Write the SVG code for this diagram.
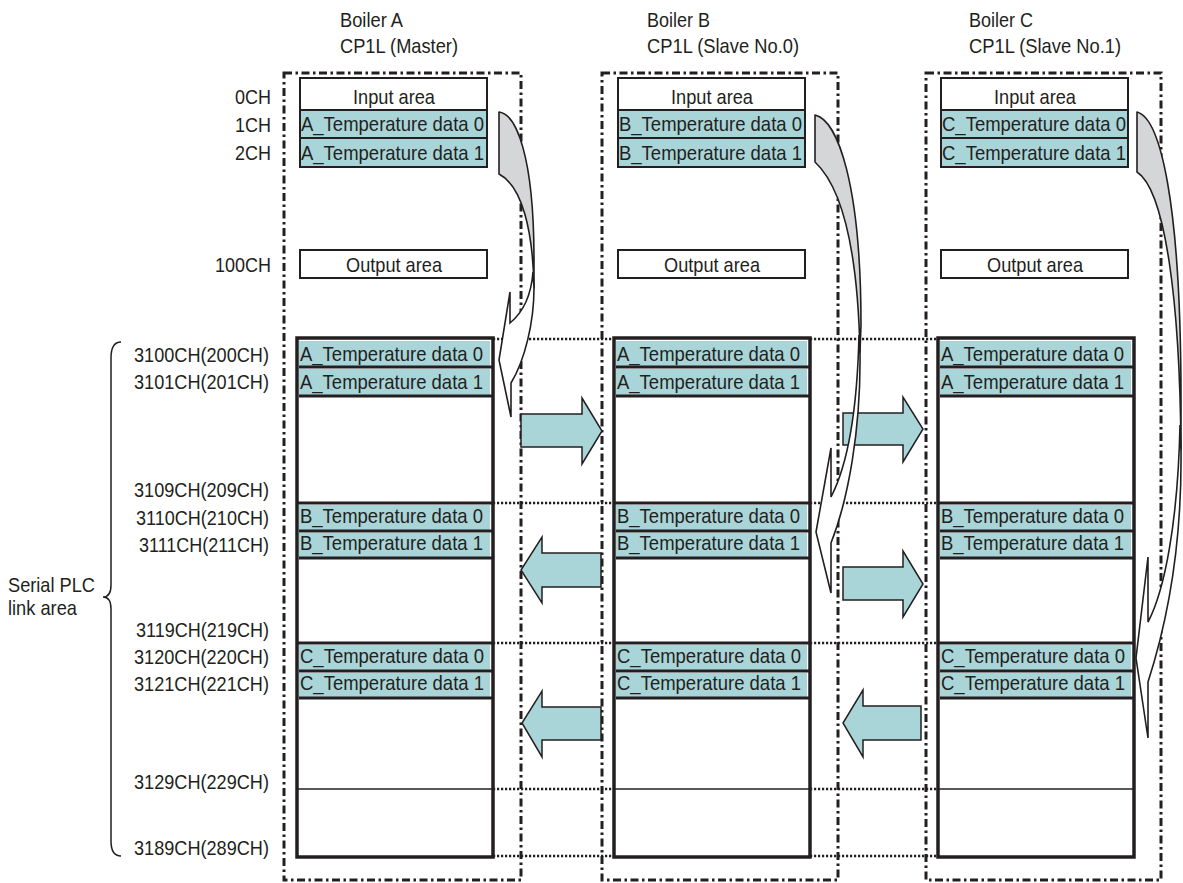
<svg xmlns="http://www.w3.org/2000/svg" xmlns:xlink="http://www.w3.org/1999/xlink" width="1183" height="883" viewBox="0 0 1183 883">
<style>
.t{font-family:"Liberation Sans",Arial,sans-serif;font-size:21px;fill:#231f20}
.m{text-anchor:middle}
.e{text-anchor:end}
.box{fill:#fff;stroke:#231f20;stroke-width:2}
.teal{fill:#a9d5d9}
.dd{fill:none;stroke:#231f20;stroke-width:3;stroke-dasharray:8 3.5 2.5 3.5}
.dot{fill:none;stroke:#231f20;stroke-width:2.5;stroke-dasharray:2.2 1.8}
.thk{stroke:#231f20;stroke-width:3}
.thn{stroke:#231f20;stroke-width:1.5}
.ln{stroke:#231f20;stroke-width:2}
.blk{fill:#a9d5d9;stroke:#231f20;stroke-width:1.5;stroke-linejoin:miter}
.cb{fill:#d5d6d8;stroke:#231f20;stroke-width:1.6;stroke-linejoin:round}
.cf{fill:#fff;stroke:#231f20;stroke-width:1.6;stroke-linejoin:miter}
.br{fill:none;stroke:#231f20;stroke-width:1.5}
</style>
<defs>
<g id="serial">
<rect x="297" y="338" width="196" height="519" fill="#fff" stroke="#231f20" stroke-width="3.5"/>
<rect class="teal" x="299" y="341" width="191" height="25"/>
<rect class="teal" x="299" y="369" width="191" height="26"/>
<rect class="teal" x="299" y="505" width="191" height="25"/>
<rect class="teal" x="299" y="533" width="191" height="24"/>
<rect class="teal" x="299" y="645" width="191" height="25"/>
<rect class="teal" x="299" y="673" width="191" height="24"/>
<line class="thk" x1="299" y1="367" x2="493" y2="367"/>
<line class="thk" x1="299" y1="396" x2="493" y2="396"/>
<line class="thk" x1="297" y1="503" x2="493" y2="503"/>
<line class="thk" x1="299" y1="531" x2="493" y2="531"/>
<line class="thk" x1="299" y1="558" x2="493" y2="558"/>
<line class="thk" x1="297" y1="643" x2="493" y2="643"/>
<line class="thk" x1="299" y1="671" x2="493" y2="671"/>
<line class="thk" x1="299" y1="698" x2="493" y2="698"/>
<line class="thn" x1="297" y1="789" x2="493" y2="789"/>
<text class="t" x="300" y="361" textLength="183" lengthAdjust="spacingAndGlyphs">A_Temperature data 0</text>
<text class="t" x="300" y="389" textLength="183" lengthAdjust="spacingAndGlyphs">A_Temperature data 1</text>
<text class="t" x="300" y="523" textLength="183" lengthAdjust="spacingAndGlyphs">B_Temperature data 0</text>
<text class="t" x="300" y="550" textLength="183" lengthAdjust="spacingAndGlyphs">B_Temperature data 1</text>
<text class="t" x="300" y="663" textLength="184" lengthAdjust="spacingAndGlyphs">C_Temperature data 0</text>
<text class="t" x="300" y="690" textLength="184" lengthAdjust="spacingAndGlyphs">C_Temperature data 1</text>
</g>
</defs>

<g id="labels">
<text class="t e" x="271" y="104" textLength="36" lengthAdjust="spacingAndGlyphs">0CH</text>
<text class="t e" x="271" y="132" textLength="36" lengthAdjust="spacingAndGlyphs">1CH</text>
<text class="t e" x="271" y="160" textLength="36" lengthAdjust="spacingAndGlyphs">2CH</text>
<text class="t e" x="271" y="272" textLength="56" lengthAdjust="spacingAndGlyphs">100CH</text>
<text class="t e" x="269" y="362" textLength="135" lengthAdjust="spacingAndGlyphs">3100CH(200CH)</text>
<text class="t e" x="269" y="389" textLength="135" lengthAdjust="spacingAndGlyphs">3101CH(201CH)</text>
<text class="t e" x="269" y="497" textLength="135" lengthAdjust="spacingAndGlyphs">3109CH(209CH)</text>
<text class="t e" x="269" y="525" textLength="133" lengthAdjust="spacingAndGlyphs">3110CH(210CH)</text>
<text class="t e" x="269" y="552" textLength="130" lengthAdjust="spacingAndGlyphs">3111CH(211CH)</text>
<text class="t e" x="269" y="637" textLength="133" lengthAdjust="spacingAndGlyphs">3119CH(219CH)</text>
<text class="t e" x="269" y="664" textLength="135" lengthAdjust="spacingAndGlyphs">3120CH(220CH)</text>
<text class="t e" x="269" y="691" textLength="135" lengthAdjust="spacingAndGlyphs">3121CH(221CH)</text>
<text class="t e" x="269" y="789" textLength="135" lengthAdjust="spacingAndGlyphs">3129CH(229CH)</text>
<text class="t e" x="269" y="855" textLength="135" lengthAdjust="spacingAndGlyphs">3189CH(289CH)</text>
</g>

<g id="serial-plc-link-area">
<path class="br" d="M121,342 C114,342 111,348 111,358 L111,585 C111,593 108,597 103,597 C108,597 111,601 111,609 L111,841 C111,851 114,856 121,856"/>
<text class="t" x="8" y="592" textLength="87" lengthAdjust="spacingAndGlyphs">Serial PLC</text>
<text class="t" x="8" y="615" textLength="69" lengthAdjust="spacingAndGlyphs">link area</text>
</g>

<g id="boiler-a">
<text class="t" x="340" y="27" textLength="63" lengthAdjust="spacingAndGlyphs">Boiler A</text>
<text class="t" x="340" y="53" textLength="118" lengthAdjust="spacingAndGlyphs">CP1L (Master)</text>
<rect class="dd" x="284" y="73" width="237" height="807"/>
<rect class="box" x="300" y="78" width="187" height="89"/>
<rect class="teal" x="301" y="111" width="185" height="55"/>
<line class="ln" x1="300" y1="110" x2="487" y2="110"/>
<line class="ln" x1="300" y1="138" x2="487" y2="138"/>
<rect class="box" x="300" y="78" width="187" height="89" style="fill:none"/>
<text class="t m" x="394" y="104" textLength="82" lengthAdjust="spacingAndGlyphs">Input area</text>
<text class="t" x="301" y="131" textLength="183" lengthAdjust="spacingAndGlyphs">A_Temperature data 0</text>
<text class="t" x="301" y="160" textLength="183" lengthAdjust="spacingAndGlyphs">A_Temperature data 1</text>
<rect class="box" x="300" y="250" width="187" height="28"/>
<text class="t m" x="394" y="272" textLength="96" lengthAdjust="spacingAndGlyphs">Output area</text>
<use xlink:href="#serial"/>
</g>

<g id="boiler-b">
<text class="t" x="647" y="27" textLength="63" lengthAdjust="spacingAndGlyphs">Boiler B</text>
<text class="t" x="647" y="53" textLength="152" lengthAdjust="spacingAndGlyphs">CP1L (Slave No.0)</text>
<rect class="dd" x="602" y="73" width="236" height="807"/>
<rect class="box" x="618" y="78" width="187" height="89"/>
<rect class="teal" x="619" y="111" width="185" height="55"/>
<line class="ln" x1="618" y1="110" x2="805" y2="110"/>
<line class="ln" x1="618" y1="138" x2="805" y2="138"/>
<rect class="box" x="618" y="78" width="187" height="89" style="fill:none"/>
<text class="t m" x="712" y="104" textLength="82" lengthAdjust="spacingAndGlyphs">Input area</text>
<text class="t" x="619" y="131" textLength="183" lengthAdjust="spacingAndGlyphs">B_Temperature data 0</text>
<text class="t" x="619" y="160" textLength="183" lengthAdjust="spacingAndGlyphs">B_Temperature data 1</text>
<rect class="box" x="618" y="250" width="187" height="28"/>
<text class="t m" x="712" y="272" textLength="96" lengthAdjust="spacingAndGlyphs">Output area</text>
<use xlink:href="#serial" transform="translate(317 0)"/>
</g>

<g id="boiler-c">
<text class="t" x="969" y="27" textLength="64" lengthAdjust="spacingAndGlyphs">Boiler C</text>
<text class="t" x="969" y="53" textLength="152" lengthAdjust="spacingAndGlyphs">CP1L (Slave No.1)</text>
<rect class="dd" x="926" y="73" width="235" height="807"/>
<rect class="box" x="941" y="78" width="187" height="89"/>
<rect class="teal" x="942" y="111" width="185" height="55"/>
<line class="ln" x1="941" y1="110" x2="1128" y2="110"/>
<line class="ln" x1="941" y1="138" x2="1128" y2="138"/>
<rect class="box" x="941" y="78" width="187" height="89" style="fill:none"/>
<text class="t m" x="1035" y="104" textLength="82" lengthAdjust="spacingAndGlyphs">Input area</text>
<text class="t" x="942" y="131" textLength="184" lengthAdjust="spacingAndGlyphs">C_Temperature data 0</text>
<text class="t" x="942" y="160" textLength="184" lengthAdjust="spacingAndGlyphs">C_Temperature data 1</text>
<rect class="box" x="941" y="250" width="187" height="28"/>
<text class="t m" x="1035" y="272" textLength="96" lengthAdjust="spacingAndGlyphs">Output area</text>
<use xlink:href="#serial" transform="translate(641 0)"/>
</g>

<g id="connectors">
<g id="dotted-links">
<path class="dot" d="M493,339 H614 M493,503 H614 M493,643 H614 M493,789 H614 M493,856 H614"/>
<path class="dot" d="M810,339 H938 M810,503 H938 M810,643 H938 M810,789 H938 M810,856 H938"/>
</g>
<g id="transfer-arrows">
<path class="blk" d="M521,414 L582,414 L582,398 L602,431 L582,464 L582,447 L521,447 Z"/>
<path class="blk" d="M843,413 L903,413 L903,397 L923,429 L903,462 L903,445 L843,445 Z"/>
<path class="blk" d="M843,567 L903,567 L903,551 L923,584 L903,617 L903,600 L843,600 Z"/>
<path class="blk" d="M601,553 L542,553 L542,537 L521,570 L542,603 L542,587 L601,587 Z"/>
<path class="blk" d="M601,707 L542,707 L542,691 L522,723 L542,757 L542,740 L601,740 Z"/>
<path class="blk" d="M921,706 L863,706 L863,690 L843,723 L863,757 L863,740 L921,740 Z"/>
</g>
<g id="copy-arrows">
<path class="cb" d="M499,112 C516,114 534,155 534,260 L534,288 C533,230 522,186 499,174 Z"/>
<path class="cf" d="M533,272 C531,298 521,314 510,323 L510,292 L499,360 L511,417 L511,383 C525,360 534,322 534,288 Z"/>
<path class="cb" d="M815,115 C838,120 861,185 861,325 L860,352 C858,262 845,190 815,162 Z"/>
<path class="cf" d="M859,335 C857,420 845,470 831,497 L831,448 L816,532 L831,593 L831,543 C848,500 861,430 860,352 Z"/>
<path class="cb" d="M1137,112 C1160,118 1181,200 1181,400 L1181,450 C1180,300 1165,190 1137,172 Z"/>
<path class="cf" d="M1180,425 C1178,520 1165,590 1148,622 L1148,557 L1136,658 L1148,738 L1148,682 C1168,620 1182,540 1181,450 Z"/>
</g>
</g>
</svg>
